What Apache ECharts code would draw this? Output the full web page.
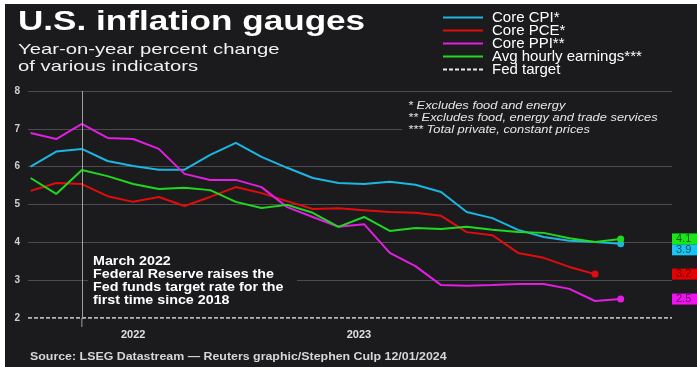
<!DOCTYPE html>
<html>
<head>
<meta charset="utf-8">
<script src="https://cdn.jsdelivr.net/npm/echarts@6/dist/echarts.min.js"></script>
<style>
  html, body { margin: 0; padding: 0; background: #fff; }
  #chart { position: absolute; left: 5px; top: 4px; width: 692px; height: 363px; }
</style>
</head>
<body>
<div id="chart"></div>
<script>
// monthly, Jan 2022 .. Dec 2023 (x = month index)
const coreCpi = [6.0, 6.4, 6.47, 6.15, 6.02, 5.92, 5.92, 6.31, 6.63, 6.26, 5.97, 5.7,
  5.57, 5.54, 5.6, 5.52, 5.33, 4.8, 4.64, 4.33, 4.14, 4.04, 4.01, 3.96]
const corePce = [5.36, 5.57, 5.54, 5.22, 5.07, 5.2, 4.96, 5.2, 5.46, 5.3, 5.09, 4.88,
  4.9, 4.85, 4.8, 4.78, 4.7, 4.27, 4.19, 3.72, 3.59, 3.35, 3.16]
const corePpi = [6.89, 6.73, 7.13, 6.76, 6.73, 6.47, 5.81, 5.65, 5.65, 5.46, 4.93, 4.67,
  4.41, 4.48, 3.72, 3.37, 2.87, 2.85, 2.87, 2.9, 2.9, 2.77, 2.45, 2.5]
const hourlyEarnings = [5.7, 5.28, 5.91, 5.75, 5.54, 5.41, 5.44, 5.38, 5.07, 4.91, 4.99, 4.78,
  4.41, 4.67, 4.3, 4.38, 4.35, 4.41, 4.33, 4.27, 4.25, 4.11, 4.01, 4.09]
const fedTarget = 2
const hikeMonth = 2 // March 2022

const seriesNames = ['Core CPI*', 'Core PCE*', 'Core PPI**', 'Avg hourly earnings***', 'Fed target']
const endLabels = ['3.9', '3.2', '2.5', '4.1']
const yearLabels = ['2022', '2023']
const yearLabelAt = [4, 12.8]

const footnotes = [
  '* Excludes food and energy',
  '** Excludes food, energy and trade services',
  '*** Total private, constant prices'
]
const noteLines = [
  'March 2022',
  'Federal Reserve raises the',
  'Fed funds target rate for the',
  'first time since 2018'
]

const BG = '#1b1b1d'
const colors = ['#1db6e2', '#e30c0c', '#e11fe1', '#20d820']
const boxColors = ['#1ac3f0', '#e60000', '#f012f0', '#18e818']
const boxOffsets = [[0, 6], [0, 0], [0, 0], [0, 0]]
const X_MIN = -0.1
const X_MAX = 25

const chart = echarts.init(document.getElementById('chart'))

function lineSeries(idx, values) {
  const last = values.length - 1
  return {
    name: seriesNames[idx],
    type: 'line',
    data: values.map((v, i) => [i, v]),
    symbol: 'none',
    z: 3,
    lineStyle: { color: colors[idx], width: 2 },
    itemStyle: { color: colors[idx] },
    markPoint: {
      silent: true,
      data: [
        {
          coord: [last, values[last]],
          symbol: 'circle',
          symbolSize: 7,
          itemStyle: { color: colors[idx] },
          label: { show: false }
        },
        {
          coord: [X_MAX, values[last]],
          symbol: 'rect',
          symbolSize: 0,
          label: {
            show: true,
            formatter: endLabels[idx],
            position: 'right',
            distance: 0,
            offset: boxOffsets[idx],
            backgroundColor: boxColors[idx],
            color: 'rgba(0,0,0,0.6)',
            fontSize: 11,
            fontFamily: 'Liberation Sans, Arial',
            lineHeight: 11,
            padding: [0, 8, 0, 4]
          }
        }
      ]
    }
  }
}

function textEl(x, y, text, font, fill, sx) {
  return {
    type: 'text',
    x: x,
    y: y,
    scaleX: sx,
    z: 11,
    silent: true,
    style: { text: text, x: 0, y: 0, font: font, fill: fill, verticalAlign: 'middle' }
  }
}

const graphics = [
  textEl(13, 19, 'U.S. inflation gauges', 'bold 27px "Liberation Sans", Arial', '#ffffff', 1.3),
  textEl(13, 46, 'Year-on-year percent change', '15px "Liberation Sans", Arial', '#f0f0f0', 1.35),
  textEl(13, 63, 'of various indicators', '15px "Liberation Sans", Arial', '#f0f0f0', 1.35),
  { type: 'rect', z: 10, silent: true, shape: { x: 397, y: 94, width: 270, height: 38 }, style: { fill: BG } },
  { type: 'rect', z: 10, silent: true, shape: { x: 83, y: 249, width: 209, height: 58 }, style: { fill: BG } },
  textEl(25, 353, 'Source: LSEG Datastream \u2014 Reuters graphic/Stephen Culp 12/01/2024',
    'bold 10.5px "Liberation Sans", Arial', '#d6d6d6', 1.18)
]
footnotes.forEach((t, i) => {
  graphics.push(textEl(403, 102 + i * 12, t, 'italic 11px "Liberation Sans", Arial', '#e6e6e6', 1.17))
})
noteLines.forEach((t, i) => {
  graphics.push(textEl(88, 258 + i * 13, t, 'bold 12px "Liberation Sans", Arial', '#ffffff', 1.19))
})

const option = {
  backgroundColor: BG,
  animation: false,
  textStyle: { fontFamily: '"Liberation Sans", Arial, sans-serif' },
  grid: { left: 23, right: 25, top: 87, bottom: 49 },
  legend: {
    orient: 'vertical',
    left: 437,
    top: 6,
    padding: 0,
    itemWidth: 40,
    itemHeight: 13,
    itemGap: -2,
    data: seriesNames,
    itemStyle: { color: 'transparent', borderColor: 'transparent', borderWidth: 0, opacity: 0 },
    textStyle: { color: '#ffffff', fontSize: 15, lineHeight: 13, padding: [0, 0, 0, 4] }
  },
  xAxis: {
    type: 'value',
    min: X_MIN,
    max: X_MAX,
    axisLine: { show: false },
    axisTick: { show: false },
    splitLine: { show: false },
    axisLabel: {
      customValues: yearLabelAt,
      formatter: v => yearLabels[yearLabelAt.findIndex(a => Math.abs(a - v) < 1e-6)] || '',
      color: '#e0e0e0',
      fontSize: 11,
      fontWeight: 'bold',
      margin: 11
    }
  },
  yAxis: {
    type: 'value',
    min: 2,
    max: 8,
    interval: 1,
    axisLine: { show: false },
    axisTick: { show: false },
    axisLabel: { color: '#d0d0d0', fontSize: 10, fontWeight: 'bold', margin: 8 },
    splitLine: { showMinLine: false, lineStyle: { color: '#4c4c4e', width: 1 } }
  },
  series: [
    lineSeries(0, coreCpi),
    lineSeries(1, corePce),
    lineSeries(2, corePpi),
    lineSeries(3, hourlyEarnings),
    {
      name: seriesNames[4],
      type: 'line',
      data: [[X_MIN, fedTarget], [X_MAX, fedTarget]],
      symbol: 'none',
      z: 1,
      lineStyle: { color: '#e8e8e8', width: 1.5, type: [4, 2] },
      itemStyle: { color: '#e8e8e8' },
      markLine: {
        silent: true,
        symbol: 'none',
        label: { show: false },
        lineStyle: { color: '#a0a0a0', width: 1, type: 'solid' },
        data: [{ xAxis: hikeMonth }]
      }
    }
  ],
  graphic: { elements: graphics }
}

chart.setOption(option)

// short tail of the March 2022 marker below the plot
const p = chart.convertToPixel({ gridIndex: 0 }, [hikeMonth, fedTarget])
graphics.push({
  type: 'line', z: 1, silent: true,
  shape: { x1: p[0], y1: p[1], x2: p[0], y2: p[1] + 9 },
  style: { stroke: '#a0a0a0', lineWidth: 1 }
})
chart.setOption({ graphic: { elements: graphics } })
</script>
</body>
</html>
